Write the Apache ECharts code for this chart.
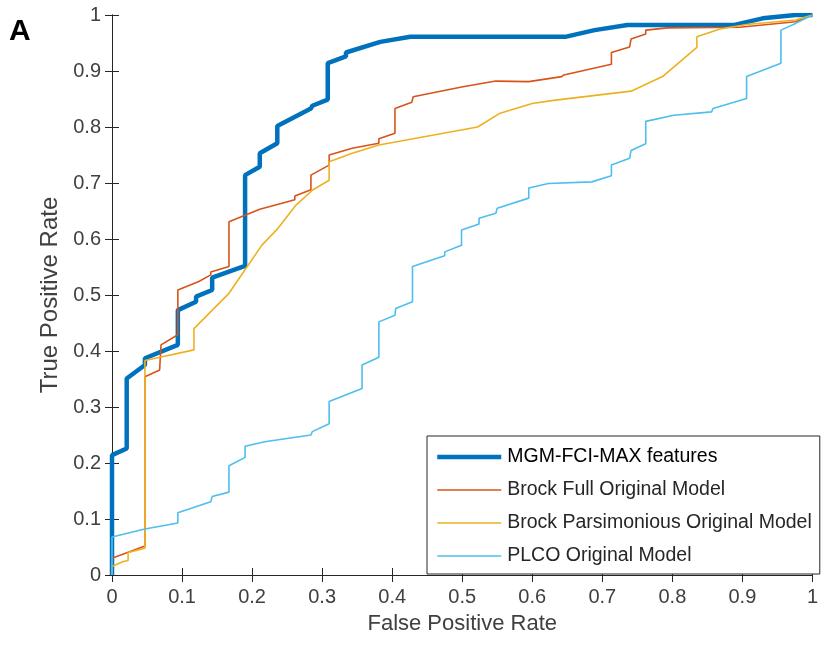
<!DOCTYPE html>
<html>
<head>
<meta charset="utf-8">
<script src="https://cdn.jsdelivr.net/npm/echarts@6/dist/echarts.min.js"></script>
<style>
  html, body { margin: 0; padding: 0; background: #fff; }
  #app { width: 821px; height: 645px; }
</style>
</head>
<body>
<div id="app"></div>
<script>
// ROC curves
var seriesNames = ['MGM-FCI-MAX features', 'Brock Full Original Model', 'Brock Parsimonious Original Model', 'PLCO Original Model'];

var mgmFpr = [0, 0, 0.021, 0.021, 0.047, 0.047, 0.094, 0.094, 0.12, 0.12, 0.143, 0.143, 0.19, 0.19, 0.211, 0.211, 0.236, 0.236, 0.284, 0.286, 0.308, 0.308, 0.334, 0.334, 0.383, 0.426, 0.647, 0.689, 0.736, 0.887, 0.929, 0.976, 1];
var mgmTpr = [0, 0.214, 0.226, 0.351, 0.375, 0.387, 0.411, 0.473, 0.488, 0.497, 0.509, 0.531, 0.552, 0.714, 0.729, 0.753, 0.771, 0.802, 0.833, 0.838, 0.849, 0.914, 0.926, 0.933, 0.952, 0.961, 0.961, 0.973, 0.982, 0.982, 0.994, 1, 1];

var fullFpr = [0, 0, 0.047, 0.047, 0.068, 0.07, 0.07, 0.094, 0.094, 0.124, 0.141, 0.141, 0.167, 0.167, 0.211, 0.261, 0.261, 0.284, 0.284, 0.31, 0.31, 0.343, 0.381, 0.381, 0.404, 0.404, 0.428, 0.43, 0.501, 0.548, 0.595, 0.642, 0.645, 0.713, 0.713, 0.739, 0.741, 0.762, 0.762, 0.793, 0.896, 0.976, 1];
var fullTpr = [0, 0.03, 0.052, 0.354, 0.366, 0.369, 0.411, 0.429, 0.509, 0.524, 0.536, 0.541, 0.551, 0.631, 0.653, 0.670, 0.677, 0.688, 0.714, 0.732, 0.75, 0.762, 0.771, 0.779, 0.789, 0.833, 0.844, 0.854, 0.872, 0.882, 0.881, 0.890, 0.893, 0.912, 0.933, 0.943, 0.957, 0.966, 0.973, 0.977, 0.978, 0.988, 1];

var parsFpr = [0, 0, 0.016, 0.023, 0.023, 0.047, 0.047, 0.117, 0.117, 0.167, 0.214, 0.237, 0.263, 0.287, 0.31, 0.31, 0.343, 0.381, 0.522, 0.553, 0.60, 0.633, 0.741, 0.786, 0.835, 0.835, 0.868, 0.906, 0.976, 1];
var parsTpr = [0, 0.015, 0.024, 0.026, 0.04, 0.048, 0.383, 0.402, 0.44, 0.503, 0.589, 0.619, 0.661, 0.688, 0.705, 0.738, 0.753, 0.768, 0.80, 0.824, 0.842, 0.848, 0.864, 0.890, 0.942, 0.961, 0.975, 0.983, 0.991, 1];

var plcoFpr = [0, 0, 0.047, 0.094, 0.094, 0.141, 0.143, 0.167, 0.167, 0.19, 0.19, 0.218, 0.284, 0.286, 0.31, 0.31, 0.357, 0.357, 0.381, 0.381, 0.404, 0.405, 0.429, 0.429, 0.463, 0.475, 0.475, 0.499, 0.499, 0.524, 0.524, 0.548, 0.55, 0.595, 0.595, 0.623, 0.685, 0.713, 0.713, 0.739, 0.741, 0.762, 0.762, 0.802, 0.856, 0.858, 0.906, 0.906, 0.955, 0.955, 0.976, 1];
var plcoTpr = [0, 0.068, 0.082, 0.093, 0.111, 0.131, 0.14, 0.148, 0.195, 0.21, 0.23, 0.238, 0.25, 0.256, 0.27, 0.31, 0.333, 0.375, 0.389, 0.452, 0.464, 0.476, 0.488, 0.551, 0.565, 0.57, 0.577, 0.589, 0.616, 0.627, 0.637, 0.646, 0.655, 0.673, 0.691, 0.699, 0.702, 0.713, 0.732, 0.744, 0.758, 0.77, 0.81, 0.821, 0.827, 0.833, 0.851, 0.89, 0.914, 0.973, 0.985, 1];

var colors = ['#0072BD', '#D95319', '#EDB120', '#4DBEEE'];
var widths = [4.5, 1.6, 1.6, 1.6];

function pairs(xs, ys) {
    return xs.map(function (x, i) { return [x, ys[i]]; });
}

var curves = [pairs(mgmFpr, mgmTpr), pairs(fullFpr, fullTpr), pairs(parsFpr, parsTpr), pairs(plcoFpr, plcoTpr)];

var axisColor = '#262626';
var font = "'Liberation Sans', Arial, sans-serif";

var myChart = echarts.init(document.getElementById('app'));

var option = {
    animation: false,
    backgroundColor: '#fff',
    title: {
        text: 'A',
        left: 9,
        top: 17,
        padding: 0,
        textStyle: { fontFamily: font, fontWeight: 'bold', fontSize: 30, color: '#000' }
    },
    grid: { left: 112, top: 15, width: 708, height: 560 },
    legend: {
        orient: 'vertical',
        left: 427,
        top: 436,
        padding: [11, 8, 8, 8],
        itemWidth: 64,
        itemHeight: 14,
        itemGap: 13,
        borderColor: axisColor,
        borderWidth: 1,
        backgroundColor: '#fff',
        itemStyle: { opacity: 0 },
        data: seriesNames.map(function (n, i) {
            return {
                name: n,
                lineStyle: { width: widths[i], color: colors[i] },
                textStyle: { color: i === 0 ? '#000' : '#262626' }
            };
        }),
        textStyle: { fontFamily: font, fontSize: 19.5, lineHeight: 20, padding: [0, 0, 0, 1] }
    },
    xAxis: [{
        type: 'value',
        min: 0, max: 1, interval: 0.1,
        name: 'False Positive Rate',
        nameLocation: 'middle',
        nameGap: 38,
        nameTextStyle: { fontFamily: font, fontSize: 22, color: '#404040' },
        axisLine: { lineStyle: { color: axisColor, width: 1 } },
        axisTick: { inside: true, length: 7, lineStyle: { color: axisColor } },
        axisLabel: { fontFamily: font, fontSize: 20, color: '#404040', margin: 12 },
        splitLine: { show: false }
    }, {
        type: 'value',
        position: 'top',
        min: 0, max: 1, interval: 0.1,
        axisLine: { show: true, lineStyle: { color: axisColor, width: 1 } },
        axisTick: { inside: true, length: 7, lineStyle: { color: axisColor } },
        axisLabel: { show: false },
        splitLine: { show: false }
    }],
    yAxis: [{
        type: 'value',
        min: 0, max: 1, interval: 0.1,
        name: 'True Positive Rate',
        nameLocation: 'middle',
        nameGap: 49,
        nameTextStyle: { fontFamily: font, fontSize: 24, color: '#404040' },
        axisLine: { show: true, lineStyle: { color: axisColor, width: 1 } },
        axisTick: { show: true, inside: true, length: 7, lineStyle: { color: axisColor } },
        axisLabel: { fontFamily: font, fontSize: 20, color: '#404040', margin: 11 },
        splitLine: { show: false }
    }, {
        type: 'value',
        position: 'right',
        min: 0, max: 1, interval: 0.1,
        axisLine: { show: true, lineStyle: { color: axisColor, width: 1 } },
        axisTick: { show: true, inside: true, length: 7, lineStyle: { color: axisColor } },
        axisLabel: { show: false },
        splitLine: { show: false }
    }],
    series: curves.map(function (d, i) {
        return {
            name: seriesNames[i],
            type: 'line',
            data: d,
            symbol: 'none',
            showSymbol: false,
            silent: true,
            color: colors[i],
            lineStyle: { color: colors[i], width: widths[i] },
            z: 2 + i
        };
    })
};

myChart.setOption(option);
</script>
</body>
</html>
